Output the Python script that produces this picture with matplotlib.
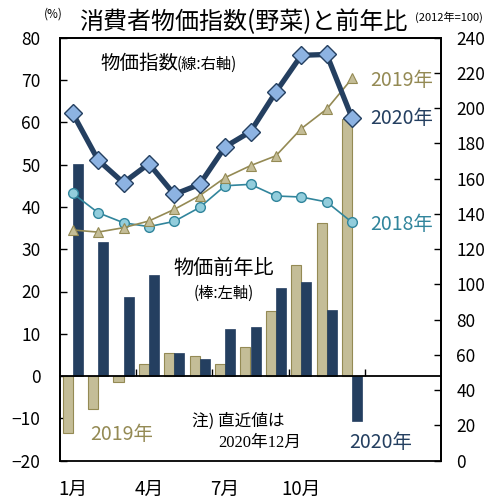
import numpy as np
import matplotlib
matplotlib.use('Agg')
import matplotlib.pyplot as plt
import matplotlib.transforms as mtransforms

plt.rcParams['font.family'] = ['Noto Sans CJK JP', 'DejaVu Sans']

# data
months = np.arange(12)
month_ticks = [0, 3, 6, 9]
month_labels = ['1月', '4月', '7月', '10月']

yoy_2019 = [-13.5, -7.7, -1.5, 2.8, 5.4, 4.7, 2.8, 6.9, 15.5, 26.2, 36.2, 60.7]
yoy_2020 = [50.2, 31.8, 18.7, 23.8, 5.4, 4.0, 11.1, 11.6, 20.8, 22.2, 15.6, -10.6]

idx_2018 = [151.7, 140.7, 135.0, 132.8, 135.8, 143.7, 156.0, 156.8, 150.2, 149.6, 146.8, 135.2]
idx_2019 = [130.9, 129.7, 132.2, 136.0, 142.6, 150.4, 160.6, 167.4, 173.0, 188.4, 199.5, 216.9]
idx_2020 = [197.1, 170.6, 157.7, 168.5, 151.1, 156.8, 178.1, 186.7, 209.2, 230.0, 230.5, 194.4]

navy = '#243F60'
tan = '#C4BD97'
tan_dark = '#948A54'
teal = '#31859C'

fig = plt.figure(figsize=(4.87, 5.0), dpi=100)
ax = fig.add_axes([60 / 487, 1 - 460.7 / 500, 381 / 487, 423 / 500])

# bars (left axis)
ax.bar(months - 0.2, yoy_2019, width=0.4, color=tan, edgecolor=tan_dark, linewidth=0.8, zorder=2)
ax.bar(months + 0.2, yoy_2020, width=0.4, color=navy, edgecolor=navy, linewidth=0.5, zorder=2)

ax.set_xlim(-0.5, 14.5)
ax.set_ylim(-20, 80)
ax.set_yticks(range(-20, 81, 10))
ax.tick_params(axis='y', direction='in', length=5, width=1, pad=14, labelsize=12.5)

# zero line acts as x axis, ticks between quarters
ax.spines['bottom'].set_position(('data', 0))
ax.spines['bottom'].set_linewidth(1.3)
ax.set_xticks([2.5, 5.5, 8.5, 11.5])
ax.set_xticklabels([])
ax.tick_params(axis='x', direction='in', length=5, width=1)
for s in ['left', 'top', 'right']:
    ax.spines[s].set_linewidth(1.3)

# lines (right axis)
ax2 = ax.twinx()
ax2.set_ylim(0, 240)
ax2.set_yticks(range(0, 241, 20))
ax2.tick_params(axis='y', direction='in', length=5, width=1, pad=11, labelsize=12.5)
for s in ax2.spines.values():
    s.set_linewidth(1.3)

ax2.plot(months, idx_2018, color=teal, lw=1.2, marker='o', ms=7,
         mfc='#92CDDC', mec=teal, mew=1.0, zorder=3)
ax2.plot(months, idx_2019, color=tan_dark, lw=1.2, marker='^', ms=7.5,
         mfc=tan, mec=tan_dark, mew=0.8, zorder=3)
ax2.plot(months, idx_2020, color=navy, lw=3.8, marker='D', ms=9.5,
         mfc='#8DB3E2', mec=navy, mew=1.0, zorder=4)

# month labels below the box
trans = mtransforms.blended_transform_factory(ax.transData, fig.transFigure)
for m, lab in zip(month_ticks, month_labels):
    ax.text(m, 1 - 489 / 500, lab, transform=trans, ha='center', va='center', fontsize=13.5)

def ftext(x, y, s, **kw):
    fig.text(x / 487, 1 - y / 500, s, ha='center', va='center', **kw)

ftext(243, 22, '消費者物価指数(野菜)と前年比', fontsize=17.3)
ftext(53, 14, '(%)', fontsize=8.5)
ftext(449, 17, '(2012年=100)', fontsize=8)

ftext(139, 63, '物価指数', fontsize=14)
ftext(207, 64, '(線:右軸)', fontsize=11)
ftext(402, 80, '2019年', fontsize=14, color=tan_dark)
ftext(402, 118, '2020年', fontsize=14, color=navy)
ftext(402, 224, '2018年', fontsize=14, color=teal)

ftext(224, 268, '物価前年比', fontsize=14.5)
ftext(224, 293, '(棒:左軸)', fontsize=11)
ftext(238, 421, '注) 直近値は', fontsize=12)
ftext(260, 443, '2020年12月', fontsize=12, family=['Liberation Serif', 'Noto Sans CJK JP'])
ftext(122, 435, '2019年', fontsize=14, color=tan_dark)
ftext(381, 442, '2020年', fontsize=14, color=navy)

fig.savefig('out.png', dpi=100)
